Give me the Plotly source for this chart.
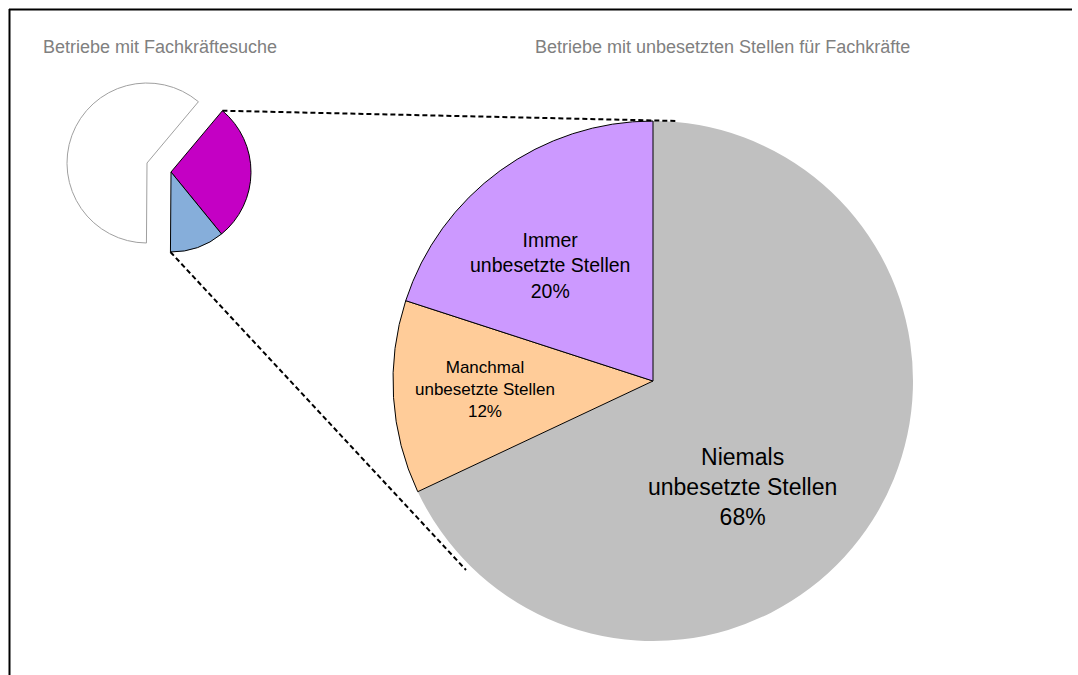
import math
import plotly.graph_objects as go

W, H = 1078, 675

# ---- data ----
big_labels = ["Niemals", "Manchmal", "Immer"]
big_suffix = "unbesetzte Stellen"
big_values = [68, 12, 20]

small_labels = ["Teil A", "Teil B", "Rest"]
small_values = [28, 11, 61]

title_left = "Betriebe mit Fachkräftesuche"
title_right = "Betriebe mit unbesetzten Stellen für Fachkräfte"

# ---- layout / style ----
big_colors = ["#C0C0C0", "#FFCC99", "#CC99FF"]
big_line_w = [0, 1, 1]
small_colors = ["#C400C4", "#86AEDA", "white"]

BIG_C = (653, 381); BIG_R = 260
WHITE_C = (147, 163); COL_C = (171, 172); SMALL_R = 80
SMALL_ROT = 40

label_pos = {"Niemals": (742, 487, 23), "Manchmal": (485, 389, 17), "Immer": (550, 265, 19.5)}
FONT = "Arial, Liberation Sans, sans-serif"


def domain(c, r):
    cx, cy = c
    return dict(x=[(cx - r) / W, (cx + r) / W], y=[1 - (cy + r) / H, 1 - (cy - r) / H])


fig = go.Figure()

fig.add_trace(go.Pie(
    values=big_values, labels=big_labels, sort=False, direction="clockwise", rotation=0,
    marker=dict(colors=big_colors, line=dict(color="black", width=big_line_w)),
    textinfo="none", hoverinfo="none", showlegend=False, domain=domain(BIG_C, BIG_R)))

# white part of small pie
fig.add_trace(go.Pie(
    values=small_values, labels=small_labels, sort=False, direction="clockwise", rotation=SMALL_ROT,
    marker=dict(colors=["rgba(0,0,0,0)", "rgba(0,0,0,0)", "white"],
                line=dict(color=["rgba(0,0,0,0)", "rgba(0,0,0,0)", "#A0A0A0"], width=[0, 0, 1])),
    textinfo="none", hoverinfo="none", showlegend=False, domain=domain(WHITE_C, SMALL_R)))

# coloured part of small pie
fig.add_trace(go.Pie(
    values=small_values, labels=small_labels, sort=False, direction="clockwise", rotation=SMALL_ROT,
    marker=dict(colors=[small_colors[0], small_colors[1], "rgba(0,0,0,0)"],
                line=dict(color=["black", "black", "rgba(0,0,0,0)"], width=[1, 1, 0])),
    textinfo="none", hoverinfo="none", showlegend=False, domain=domain(COL_C, SMALL_R)))

# connector lines, computed from the small pie geometry (pixel coords -> paper)
tot = sum(small_values)
a0 = math.radians(SMALL_ROT)
a1 = math.radians(SMALL_ROT + 360 * (small_values[0] + small_values[1]) / tot)
p_top = (COL_C[0] + SMALL_R * math.sin(a0), COL_C[1] - SMALL_R * math.cos(a0))
p_bot = (COL_C[0] + SMALL_R * math.sin(a1), COL_C[1] - SMALL_R * math.cos(a1))


def px(x):
    return x / W


def py(y):
    return 1 - y / H


dash = dict(color="black", width=2, dash="5px,3px")
frame = dict(color="black", width=2)
shapes = [
    dict(type="line", xref="paper", yref="paper", x0=px(p_top[0]), y0=py(p_top[1]),
         x1=px(BIG_C[0] + 25), y1=py(BIG_C[1] - BIG_R), line=dash),
    dict(type="line", xref="paper", yref="paper", x0=px(p_bot[0]), y0=py(p_bot[1]),
         x1=px(466), y1=py(570), line=dash),
    dict(type="line", xref="paper", yref="paper", x0=px(9), y0=py(9.5), x1=px(W - 6), y1=py(9.5), line=frame),
    dict(type="line", xref="paper", yref="paper", x0=px(9.5), y0=py(9), x1=px(9.5), y1=py(H + 5), line=frame),
]

annotations = []
for lab, val in zip(big_labels, big_values):
    x, y, fs = label_pos[lab]
    annotations.append(dict(x=px(x), y=py(y), xref="paper", yref="paper", showarrow=False,
                            xanchor="center", yanchor="middle",
                            text=f"{lab}<br>{big_suffix}<br>{val}%",
                            font=dict(family=FONT, size=fs, color="black"),
                            align="center"))
for txt, xc in ((title_left, 160), (title_right, 722)):
    annotations.append(dict(x=px(xc), y=py(47), xref="paper", yref="paper", showarrow=False,
                            xanchor="center", yanchor="middle", text=txt,
                            font=dict(family=FONT, size=18, color="#808080")))

fig.update_layout(
    width=W, height=H, margin=dict(l=0, r=0, t=0, b=0),
    paper_bgcolor="white", plot_bgcolor="white",
    shapes=shapes, annotations=annotations, showlegend=False,
)

fig.write_html("out.html", config={"displayModeBar": False},
               post_script="document.body.style.margin='0';document.body.style.overflow='hidden';")
